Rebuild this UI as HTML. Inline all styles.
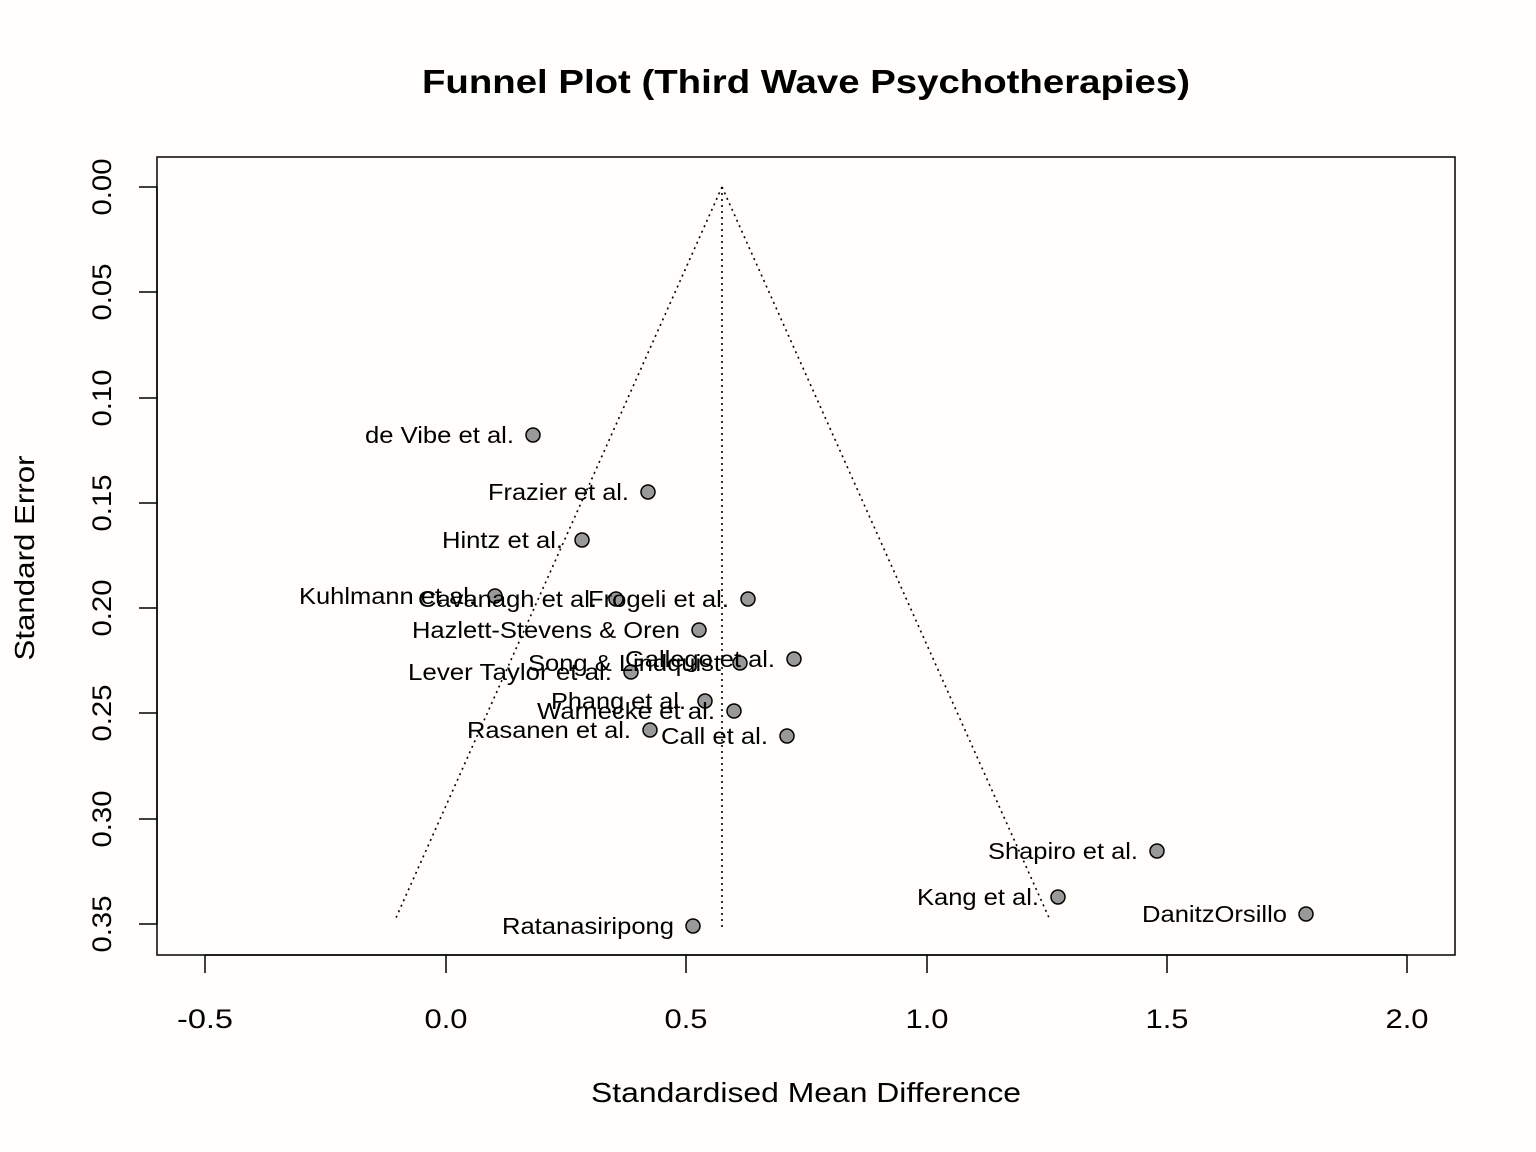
<!DOCTYPE html>
<html><head><meta charset="utf-8"><style>
html,body{margin:0;padding:0;background:#fffefa;}
svg{display:block;font-family:"Liberation Sans",Arial,sans-serif;}
</style></head><body>
<svg width="1536" height="1152" viewBox="0 0 1536 1152" xmlns="http://www.w3.org/2000/svg">
<rect width="1536" height="1152" fill="#fffefa"/>
<text x="806" y="93" text-anchor="middle" font-size="33" font-weight="bold" textLength="768" lengthAdjust="spacingAndGlyphs">Funnel Plot (Third Wave Psychotherapies)</text>
<rect x="157" y="157" width="1298" height="798" fill="none" stroke="#000" stroke-width="1.5"/>
<g stroke="#000" stroke-width="1.5">
<line x1="205" y1="955" x2="1407" y2="955"/>
<line x1="205" y1="955" x2="205" y2="973"/>
<line x1="446" y1="955" x2="446" y2="973"/>
<line x1="686" y1="955" x2="686" y2="973"/>
<line x1="927" y1="955" x2="927" y2="973"/>
<line x1="1167" y1="955" x2="1167" y2="973"/>
<line x1="1407" y1="955" x2="1407" y2="973"/>
</g>
<g font-size="27" text-anchor="middle" lengthAdjust="spacingAndGlyphs">
<text x="205" y="1028" textLength="56" lengthAdjust="spacingAndGlyphs">-0.5</text>
<text x="446" y="1028" textLength="43" lengthAdjust="spacingAndGlyphs">0.0</text>
<text x="686" y="1028" textLength="43" lengthAdjust="spacingAndGlyphs">0.5</text>
<text x="927" y="1028" textLength="43" lengthAdjust="spacingAndGlyphs">1.0</text>
<text x="1167" y="1028" textLength="43" lengthAdjust="spacingAndGlyphs">1.5</text>
<text x="1407" y="1028" textLength="43" lengthAdjust="spacingAndGlyphs">2.0</text>
</g>
<text x="806" y="1102" text-anchor="middle" font-size="28" textLength="430" lengthAdjust="spacingAndGlyphs">Standardised Mean Difference</text>
<g stroke="#000" stroke-width="1.5">
<line x1="157" y1="187" x2="157" y2="924"/>
<line x1="139" y1="187" x2="157" y2="187"/>
<line x1="139" y1="292" x2="157" y2="292"/>
<line x1="139" y1="398" x2="157" y2="398"/>
<line x1="139" y1="503" x2="157" y2="503"/>
<line x1="139" y1="608" x2="157" y2="608"/>
<line x1="139" y1="713" x2="157" y2="713"/>
<line x1="139" y1="819" x2="157" y2="819"/>
<line x1="139" y1="924" x2="157" y2="924"/>
</g>
<g font-size="27" text-anchor="middle">
<text transform="translate(111,187) rotate(-90)" textLength="57" lengthAdjust="spacingAndGlyphs">0.00</text>
<text transform="translate(111,292) rotate(-90)" textLength="57" lengthAdjust="spacingAndGlyphs">0.05</text>
<text transform="translate(111,398) rotate(-90)" textLength="57" lengthAdjust="spacingAndGlyphs">0.10</text>
<text transform="translate(111,503) rotate(-90)" textLength="57" lengthAdjust="spacingAndGlyphs">0.15</text>
<text transform="translate(111,608) rotate(-90)" textLength="57" lengthAdjust="spacingAndGlyphs">0.20</text>
<text transform="translate(111,713) rotate(-90)" textLength="57" lengthAdjust="spacingAndGlyphs">0.25</text>
<text transform="translate(111,819) rotate(-90)" textLength="57" lengthAdjust="spacingAndGlyphs">0.30</text>
<text transform="translate(111,924) rotate(-90)" textLength="57" lengthAdjust="spacingAndGlyphs">0.35</text>
</g>
<text transform="translate(34,558) rotate(-90)" text-anchor="middle" font-size="28" textLength="205" lengthAdjust="spacingAndGlyphs">Standard Error</text>
<g stroke="#000" stroke-width="1.6" stroke-dasharray="2,4" fill="none">
<line x1="722" y1="187" x2="395" y2="920"/>
<line x1="722" y1="187" x2="1050" y2="920"/>
<line x1="722" y1="187" x2="722" y2="928"/>
</g>
<g fill="#999" stroke="#000" stroke-width="1.5">
<circle cx="533" cy="435" r="7"/>
<circle cx="648" cy="492" r="7"/>
<circle cx="582" cy="540" r="7"/>
<circle cx="495" cy="596" r="7"/>
<circle cx="616" cy="599" r="7"/>
<circle cx="748" cy="599" r="7"/>
<circle cx="699" cy="630" r="7"/>
<circle cx="794" cy="659" r="7"/>
<circle cx="740" cy="663" r="7"/>
<circle cx="631" cy="672" r="7"/>
<circle cx="705" cy="701" r="7"/>
<circle cx="734" cy="711" r="7"/>
<circle cx="650" cy="730" r="7"/>
<circle cx="787" cy="736" r="7"/>
<circle cx="1157" cy="851" r="7"/>
<circle cx="1058" cy="897" r="7"/>
<circle cx="1306" cy="914" r="7"/>
<circle cx="693" cy="926" r="7"/>
</g>
<g font-size="23">
<text x="365" y="443" textLength="149" lengthAdjust="spacingAndGlyphs">de Vibe et al.</text>
<text x="488" y="500" textLength="141" lengthAdjust="spacingAndGlyphs">Frazier et al.</text>
<text x="442" y="548" textLength="121" lengthAdjust="spacingAndGlyphs">Hintz et al.</text>
<text x="299" y="604" textLength="177" lengthAdjust="spacingAndGlyphs">Kuhlmann et al.</text>
<text x="418" y="607" textLength="179" lengthAdjust="spacingAndGlyphs">Cavanagh et al.</text>
<text x="588" y="607" textLength="141" lengthAdjust="spacingAndGlyphs">Frogeli et al.</text>
<text x="412" y="638" textLength="268" lengthAdjust="spacingAndGlyphs">Hazlett-Stevens &amp; Oren</text>
<text x="625" y="667" textLength="150" lengthAdjust="spacingAndGlyphs">Gallego et al.</text>
<text x="528" y="671" textLength="193" lengthAdjust="spacingAndGlyphs">Song &amp; Lindquist</text>
<text x="408" y="680" textLength="204" lengthAdjust="spacingAndGlyphs">Lever Taylor et al.</text>
<text x="551" y="709" textLength="135" lengthAdjust="spacingAndGlyphs">Phang et al.</text>
<text x="537" y="719" textLength="178" lengthAdjust="spacingAndGlyphs">Warnecke et al.</text>
<text x="467" y="738" textLength="164" lengthAdjust="spacingAndGlyphs">Rasanen et al.</text>
<text x="661" y="744" textLength="107" lengthAdjust="spacingAndGlyphs">Call et al.</text>
<text x="988" y="859" textLength="150" lengthAdjust="spacingAndGlyphs">Shapiro et al.</text>
<text x="917" y="905" textLength="122" lengthAdjust="spacingAndGlyphs">Kang et al.</text>
<text x="1142" y="922" textLength="145" lengthAdjust="spacingAndGlyphs">DanitzOrsillo</text>
<text x="502" y="934" textLength="172" lengthAdjust="spacingAndGlyphs">Ratanasiripong</text>
</g>
</svg>
</body></html>
